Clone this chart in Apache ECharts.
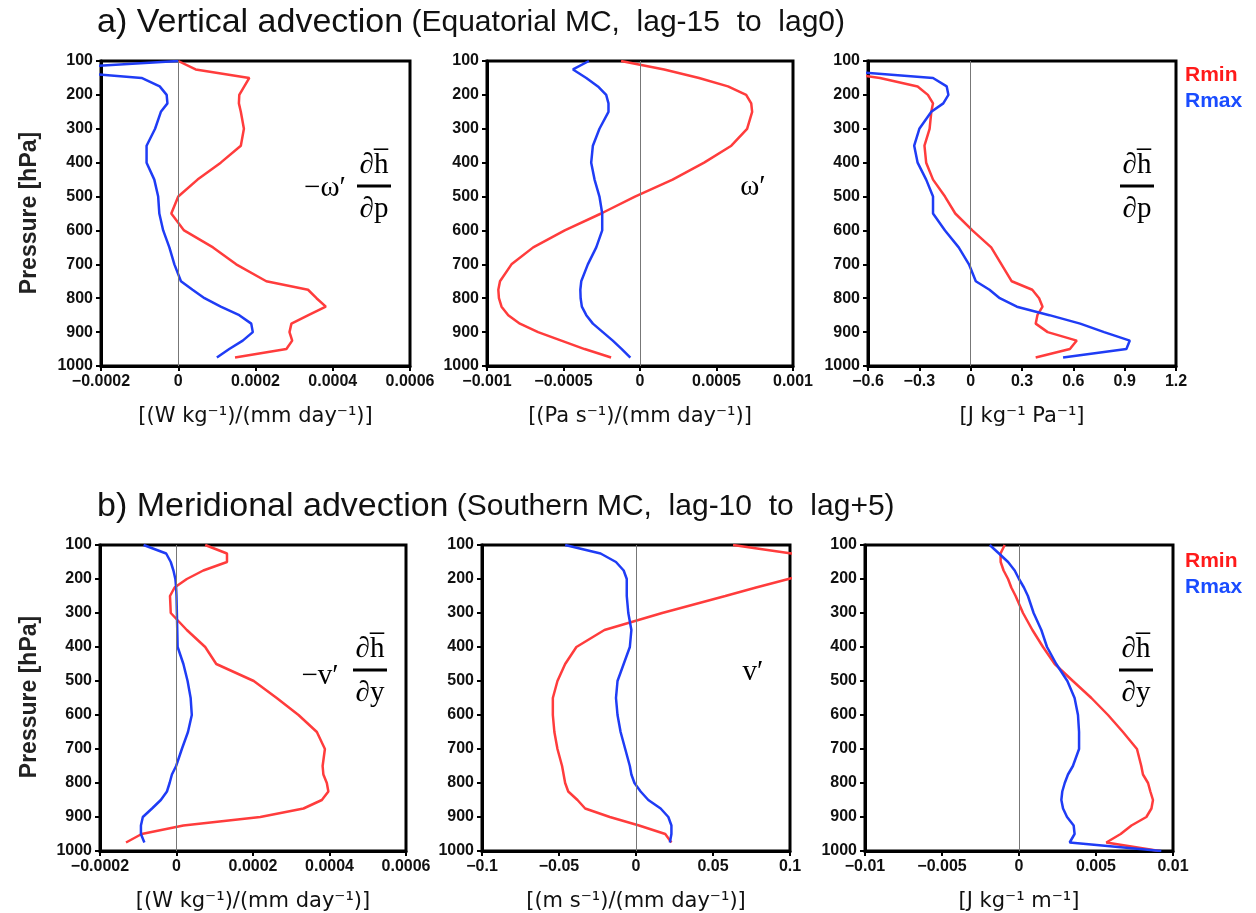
<!DOCTYPE html>
<html><head><meta charset="utf-8">
<script src="https://cdn.jsdelivr.net/npm/echarts@6/dist/echarts.min.js"></script>
<style>html,body{margin:0;padding:0;background:#fff}#c{width:1256px;height:913px}</style>
</head><body><div id="c"></div>
<script>
// Pressure levels (hPa)
const levels = [100,125,150,175,200,225,250,300,350,400,450,500,550,600,650,700,750,775,800,825,850,875,900,925,950,975,1000];

// a) Vertical advection, panel 1: -omega' dh/dp
const a1Rmin = [0,0.45e-4,1.84e-4,1.71e-4,1.58e-4,1.57e-4,1.62e-4,1.7e-4,1.62e-4,1.1e-4,0.5e-4,0.0,-0.18e-4,0.15e-4,0.9e-4,1.5e-4,2.28e-4,3.36e-4,3.58e-4,3.82e-4,3.37e-4,2.93e-4,2.88e-4,2.95e-4,2.8e-4,1.47e-4,null];
const a1Rmax = [0,-3.7e-4,-0.95e-4,-0.48e-4,-0.3e-4,-0.28e-4,-0.45e-4,-0.6e-4,-0.82e-4,-0.82e-4,-0.62e-4,-0.52e-4,-0.49e-4,-0.39e-4,-0.23e-4,-0.1e-4,0.07e-4,0.37e-4,0.68e-4,1.1e-4,1.58e-4,1.89e-4,1.93e-4,1.67e-4,1.32e-4,1.0e-4,null];
// panel 2: omega'
const a2Rmin = [-1.24e-4,1.58e-4,3.86e-4,5.75e-4,6.94e-4,7.27e-4,7.33e-4,7.0e-4,5.97e-4,4.19e-4,2.13e-4,-0.33e-4,-2.54e-4,-4.92e-4,-6.98e-4,-8.4e-4,-9.15e-4,-9.26e-4,-9.22e-4,-9.05e-4,-8.61e-4,-7.85e-4,-6.66e-4,-5.14e-4,-3.62e-4,-1.89e-4,null];
const a2Rmax = [-3.34e-4,-4.38e-4,-3.51e-4,-2.75e-4,-2.21e-4,-2.06e-4,-2.06e-4,-2.65e-4,-3.08e-4,-3.19e-4,-2.97e-4,-2.65e-4,-2.47e-4,-2.47e-4,-2.86e-4,-3.41e-4,-3.84e-4,-3.9e-4,-3.88e-4,-3.8e-4,-3.51e-4,-3.08e-4,-2.43e-4,-1.78e-4,-1.19e-4,-0.63e-4,null];
// panel 3: dh/dp
const a3Rmin = [-1.2,-0.9,-0.53,-0.31,-0.25,-0.22,-0.23,-0.24,-0.27,-0.26,-0.22,-0.15,-0.09,0.01,0.12,0.18,0.24,0.36,0.40,0.42,0.39,0.38,0.45,0.62,0.58,0.38,null];
const a3Rmax = [-1.2,-0.85,-0.22,-0.14,-0.13,-0.16,-0.23,-0.30,-0.33,-0.31,-0.26,-0.22,-0.22,-0.15,-0.07,-0.01,0.03,0.11,0.17,0.27,0.46,0.64,0.78,0.93,0.91,0.54,null];

// b) Meridional advection, panel 1: -v' dh/dy
const b1Rmin = [0.75e-4,1.32e-4,1.32e-4,0.7e-4,0.27e-4,-0.05e-4,-0.17e-4,-0.15e-4,0.27e-4,0.75e-4,1.04e-4,2.02e-4,2.62e-4,3.19e-4,3.67e-4,3.88e-4,3.82e-4,3.84e-4,3.93e-4,3.97e-4,3.8e-4,3.32e-4,2.19e-4,0.18e-4,-0.91e-4,-1.32e-4,null];
const b1Rmax = [-0.86e-4,-0.27e-4,-0.15e-4,-0.08e-4,-0.03e-4,-0.01e-4,0,0.01e-4,0.02e-4,0.03e-4,0.18e-4,0.29e-4,0.37e-4,0.4e-4,0.3e-4,0.14e-4,-0.01e-4,-0.12e-4,-0.18e-4,-0.25e-4,-0.41e-4,-0.64e-4,-0.88e-4,-0.93e-4,-0.93e-4,-0.84e-4,null];
// panel 2: v'
const b2Rmin = [0.063,0.101,0.13,0.12,0.099,0.078,0.058,0.017,-0.0205,-0.0387,-0.046,-0.051,-0.054,-0.054,-0.053,-0.051,-0.048,-0.047,-0.046,-0.044,-0.038,-0.033,-0.017,0.002,0.019,0.023,null];
const b2Rmax = [-0.046,-0.023,-0.013,-0.008,-0.006,-0.006,-0.006,-0.005,-0.003,-0.004,-0.008,-0.012,-0.013,-0.012,-0.01,-0.007,-0.004,-0.003,-0.001,0.003,0.008,0.016,0.021,0.023,0.023,0.022,null];
// panel 3: dh/dy
const b3Rmin = [-0.00093,-0.0012,-0.00119,-0.001,-0.00071,-0.0005,-0.00022,0.00026,0.00087,0.00156,0.00232,0.0035,0.0047,0.00578,0.00675,0.00766,0.00794,0.00805,0.00838,0.00853,0.0087,0.0086,0.00827,0.0073,0.0066,0.00567,0.00913];
const b3Rmax = [-0.0019,-0.0013,-0.00071,-0.00028,0.0,0.00032,0.00058,0.00095,0.00145,0.00182,0.00242,0.00314,0.00361,0.00383,0.0039,0.0039,0.0035,0.00318,0.00297,0.00281,0.00275,0.00286,0.00312,0.00355,0.00361,0.00329,0.00924];

// Axis ranges [min, max, interval]
const a1X = [-0.0002, 0.0006, 0.0002];
const a2X = [-0.001, 0.001, 0.0005];
const a3X = [-0.6, 1.2, 0.3];
const b1X = [-0.0002, 0.0006, 0.0002];
const b2X = [-0.1, 0.1, 0.05];
const b3X = [-0.01, 0.01, 0.005];
const yRange = [100, 1000, 100];

const xNames = ['[(W kg\u207B\u00B9)/(mm day\u207B\u00B9)]','[(Pa s\u207B\u00B9)/(mm day\u207B\u00B9)]','[J kg\u207B\u00B9 Pa\u207B\u00B9]',
                '[(W kg\u207B\u00B9)/(mm day\u207B\u00B9)]','[(m s\u207B\u00B9)/(mm day\u207B\u00B9)]','[J kg\u207B\u00B9 m\u207B\u00B9]'];
const titleA = ['a) Vertical advection', ' (Equatorial MC,  lag-15  to  lag0)'];
const titleB = ['b) Meridional advection', ' (Southern MC,  lag-10  to  lag+5)'];
const seriesNames = ['Rmin', 'Rmax'];

const RED = '#ff3c3c', BLUE = '#1f3cf5';
const panels = [
  {box:[101,61,309,305], x:a1X, r:a1Rmin, b:a1Rmax},
  {box:[487,61,306,305], x:a2X, r:a2Rmin, b:a2Rmax},
  {box:[868,61,308,305], x:a3X, r:a3Rmin, b:a3Rmax},
  {box:[100,545,306,306], x:b1X, r:b1Rmin, b:b1Rmax},
  {box:[482,545,308,306], x:b2X, r:b2Rmin, b:b2Rmax},
  {box:[865,545,308,306], x:b3X, r:b3Rmin, b:b3Rmax}
];
function pairs(vals){ const out=[]; levels.forEach((p,i)=>{ if(vals[i]!==null) out.push([vals[i],p]); }); return out; }
function fmt(v){ const n = parseFloat(Number(v).toPrecision(6)); if (n===0) return '0'; let s = String(n); if (s.indexOf('e')>=0) s = n.toFixed(6).replace(/0+$/,''); return s.replace('-', '\u2212'); }

const grid=[], xAxis=[], yAxis=[], series=[], graphic=[];
panels.forEach((pn,i)=>{
  grid.push({left:pn.box[0], top:pn.box[1], width:pn.box[2], height:pn.box[3], show:true, borderColor:'#000', borderWidth:3, backgroundColor:'transparent'});
  xAxis.push({type:'value', gridIndex:i, min:pn.x[0], max:pn.x[1], interval:pn.x[2],
    splitLine:{show:false}, axisLine:{show:true, onZero:false, lineStyle:{color:'#000', width:3}},
    axisTick:{show:true, length:5, lineStyle:{color:'#000', width:2}},
    axisLabel:{formatter:fmt, margin:8, color:'#111', fontSize:16, fontWeight:'bold', fontFamily:'Liberation Sans, Arial'},
    name:xNames[i], nameLocation:'middle', nameGap:40,
    nameTextStyle:{fontSize:21, color:'#111', fontFamily:'DejaVu Sans'}});
  yAxis.push({type:'value', gridIndex:i, inverse:true, min:yRange[0], max:yRange[1], interval:yRange[2],
    splitLine:{show:false}, axisLine:{show:true, onZero:false, lineStyle:{color:'#000', width:3}},
    axisTick:{show:true, length:5, lineStyle:{color:'#000', width:2}},
    axisLabel:{formatter:v=>String(v), margin:8, color:'#111', fontSize:16, fontWeight:'bold', fontFamily:'Liberation Sans, Arial'}});
  series.push({name:seriesNames[0], type:'line', xAxisIndex:i, yAxisIndex:i, data:pairs(pn.r), showSymbol:false, clip:true,
    lineStyle:{color:RED, width:2.5}, itemStyle:{color:RED}, z:3,
    markLine:{silent:true, symbol:['none','none'], label:{show:false}, lineStyle:{color:'#777', width:1, type:'solid'}, data:[{xAxis:0}], animation:false}});
  series.push({name:seriesNames[1], type:'line', xAxisIndex:i, yAxisIndex:i, data:pairs(pn.b), showSymbol:false, clip:true,
    lineStyle:{color:BLUE, width:2.5}, itemStyle:{color:BLUE}, z:3});
});

// Titles
function title(y, parts){
  graphic.push({type:'text', left:97, top:y, style:{rich:{
      a:{fontSize:34, fontFamily:'Liberation Sans, Arial', fill:'#111'},
      b:{fontSize:30, fontFamily:'Liberation Sans, Arial', fill:'#111'}},
    text:'{a|'+parts[0]+'}{b|'+parts[1]+'}'}});
}
title(6, titleA); title(490, titleB);
// Pressure labels
[213, 697].forEach(cy=>graphic.push({type:'text', x:30, y:cy, rotation:Math.PI/2,
  style:{text:'Pressure [hPa]', fontSize:23, fontWeight:'bold', fontFamily:'Liberation Sans, Arial', fill:'#222', textAlign:'center', textVerticalAlign:'middle'}}));
// Legend texts
[[75,101],[561,587]].forEach(([y1,y2])=>{
  graphic.push({type:'text', x:1185, y:y1, style:{text:seriesNames[0], fontSize:21, fontWeight:'bold', fontFamily:'Liberation Sans, Arial', fill:'#ff1a1a', textVerticalAlign:'middle'}});
  graphic.push({type:'text', x:1185, y:y2, style:{text:seriesNames[1], fontSize:21, fontWeight:'bold', fontFamily:'Liberation Sans, Arial', fill:'#1a4cff', textVerticalAlign:'middle'}});
});
// Math annotations
const SERIF = 'Liberation Serif, DejaVu Serif';
function mtext(x, y, t, align){ graphic.push({type:'text', x:x, y:y, style:{text:t, fontSize:29, fontFamily:SERIF, fill:'#000', textAlign:align||'center', textVerticalAlign:'middle'}}); }
function frac(cx, barY, num, den){
  mtext(cx, barY-21, num); mtext(cx, barY+23, den);
  graphic.push({type:'rect', shape:{x:cx-17, y:barY-1.5, width:34, height:3}, style:{fill:'#000'}});
}
mtext(325, 188, '\u2212\u03C9\u2032'); frac(374, 186, '\u2202h\u0305', '\u2202p');
mtext(753, 187, '\u03C9\u2032');
frac(1137, 186, '\u2202h\u0305', '\u2202p');
mtext(320, 676, '\u2212v\u2032'); frac(370, 670, '\u2202h\u0305', '\u2202y');
mtext(753, 672, 'v\u2032');
frac(1136, 670, '\u2202h\u0305', '\u2202y');

const chart = echarts.init(document.getElementById('c'), null, {renderer:'canvas'});
chart.setOption({animation:false, backgroundColor:'#fff', grid, xAxis, yAxis, series, graphic});
</script></body></html>
